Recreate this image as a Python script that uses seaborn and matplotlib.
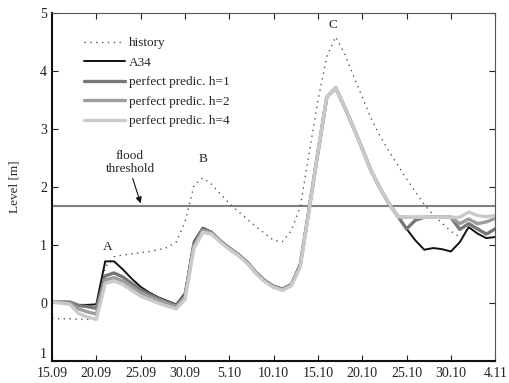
import matplotlib
matplotlib.use("Agg")
import matplotlib.pyplot as plt
import pandas as pd
import seaborn as sns

# dias a partir de 15.09
days = list(range(51))
tick_days = [0, 5, 10, 15, 20, 25, 30, 35, 40, 45, 50]
tick_labels = ["15.09", "20.09", "25.09", "30.09", "5.10", "10.10",
               "15.10", "20.10", "25.10", "30.10", "4.11"]
ytick_vals = [-1, 0, 1, 2, 3, 4, 5]
ytick_labels = ["1", "0", "1", "2", "3", "4", "5"]

flood_threshold = 1.68

history = [-0.26, -0.27, -0.27, -0.28, -0.28, -0.28, 0.62, 0.80, 0.83, 0.85,
           0.87, 0.89, 0.92, 0.96, 1.05, 1.40, 2.02, 2.16, 2.05, 1.88,
           1.72, 1.58, 1.45, 1.32, 1.20, 1.08, 1.06, 1.25, 1.66, 2.58,
           3.49, 4.25, 4.59, 4.30, 3.92, 3.55, 3.18, 2.88, 2.62, 2.38,
           2.14, 1.92, 1.70, 1.52, 1.38, 1.24, 1.14]

a34 = [0.02, 0.02, 0.02, -0.03, -0.03, -0.02, 0.72, 0.72, 0.58, 0.42,
       0.28, 0.18, 0.10, 0.04, -0.02, 0.17, 1.06, 1.30, 1.23, 1.08,
       0.96, 0.85, 0.72, 0.54, 0.40, 0.30, 0.25, 0.33, 0.68, 1.63,
       2.60, 3.55, 3.71, 3.38, 3.03, 2.66, 2.28, 1.98, 1.72, 1.50,
       1.28, 1.08, 0.92, 0.95, 0.93, 0.89, 1.05, 1.31, 1.20, 1.12, 1.14]

pred_h1 = [0.02, 0.02, 0.02, -0.04, -0.06, -0.09, 0.47, 0.52, 0.45, 0.34,
           0.23, 0.15, 0.08, 0.02, -0.04, 0.13, 1.02, 1.28, 1.22, 1.07,
           0.95, 0.84, 0.71, 0.53, 0.39, 0.29, 0.24, 0.32, 0.66, 1.62,
           2.60, 3.55, 3.71, 3.38, 3.03, 2.66, 2.28, 1.98, 1.72, 1.50,
           1.28, 1.43, 1.48, 1.48, 1.48, 1.48, 1.27, 1.37, 1.28, 1.19, 1.28]

pred_h2 = [0.02, 0.01, 0.00, -0.10, -0.15, -0.19, 0.40, 0.44, 0.38, 0.28,
           0.18, 0.11, 0.05, -0.01, -0.06, 0.10, 0.98, 1.25, 1.21, 1.06,
           0.94, 0.83, 0.70, 0.52, 0.38, 0.28, 0.23, 0.31, 0.64, 1.61,
           2.60, 3.55, 3.71, 3.38, 3.03, 2.66, 2.28, 1.98, 1.72, 1.49,
           1.48, 1.48, 1.48, 1.48, 1.48, 1.48, 1.37, 1.45, 1.37, 1.40, 1.46]

pred_h4 = [0.02, 0.00, -0.02, -0.18, -0.24, -0.28, 0.34, 0.38, 0.32, 0.22,
           0.12, 0.06, 0.00, -0.05, -0.10, 0.06, 0.94, 1.22, 1.19, 1.05,
           0.93, 0.82, 0.69, 0.51, 0.37, 0.27, 0.22, 0.30, 0.62, 1.60,
           2.60, 3.55, 3.71, 3.38, 3.03, 2.66, 2.28, 1.98, 1.72, 1.49,
           1.48, 1.48, 1.48, 1.48, 1.48, 1.48, 1.48, 1.57, 1.51, 1.49, 1.51]

sns.set_style("ticks")
plt.rcParams['font.family'] = ['Liberation Serif', 'DejaVu Serif']
plt.rcParams['font.size'] = 9.5

fig = plt.figure(figsize=(5.1, 3.83), dpi=100)
ax = fig.add_axes([0.102, 0.057, 0.869, 0.909])

# limiar de cheia
ax.axhline(flood_threshold, color='#808080', lw=1.5, zorder=1)

sns.lineplot(x=days[:len(history)], y=history, ax=ax, color='#555555', lw=1.0,
             linestyle=(0, (1, 3.2)), label='history')
sns.lineplot(x=days, y=a34, ax=ax, color='#111111', lw=1.4, label='A34')
sns.lineplot(x=days, y=pred_h1, ax=ax, color='#777777', lw=2.4, label='perfect predic. h=1')
sns.lineplot(x=days, y=pred_h2, ax=ax, color='#9e9e9e', lw=2.4, label='perfect predic. h=2')
sns.lineplot(x=days, y=pred_h4, ax=ax, color='#cacaca', lw=2.4, label='perfect predic. h=4')

ax.set_xlim(0, 50)
ax.set_ylim(-1, 5)
ax.set_xticks(tick_days)
ax.set_xticklabels(tick_labels)
ax.set_yticks(ytick_vals)
ax.set_yticklabels(ytick_labels)
ax.set_xlabel('')
ax.set_ylabel('Level [m]', fontsize=9.5)
ax.yaxis.set_label_coords(-0.07, 0.5)
ax.tick_params(direction='in', length=4, top=True, right=True, width=0.8,
               colors='#222222', labelsize=10)
ax.tick_params(axis='x', pad=4)
# o "1" de baixo fica um pouco acima, como no original
ax.get_yticklabels()[0].set_verticalalignment('bottom')

for s in ['left', 'bottom']:
    ax.spines[s].set_linewidth(1.5)
    ax.spines[s].set_color('#111111')
for s in ['top', 'right']:
    ax.spines[s].set_linewidth(0.8)
    ax.spines[s].set_color('#555555')

ax.legend(loc='upper left', bbox_to_anchor=(0.045, 0.965), frameon=False,
          handlelength=3.1, handletextpad=0.3, labelspacing=0.55, fontsize=9.5)

# rótulos dos picos
ax.text(6.3, 0.96, 'A', ha='center', va='center', fontsize=9.5, color='#222222')
ax.text(17.0, 2.48, 'B', ha='center', va='center', fontsize=9.5, color='#222222')
ax.text(31.7, 4.80, 'C', ha='center', va='center', fontsize=9.5, color='#222222')

ax.text(8.8, 2.42, 'flood\nthreshold', ha='center', va='center', fontsize=9.5,
        linespacing=1.1)
ax.annotate('', xy=(10.0, 1.72), xytext=(9.1, 2.15),
            arrowprops=dict(arrowstyle='-|>', color='#111111', lw=0.8,
                            shrinkA=0, shrinkB=0, mutation_scale=9))

fig.savefig('out.png', dpi=100)
